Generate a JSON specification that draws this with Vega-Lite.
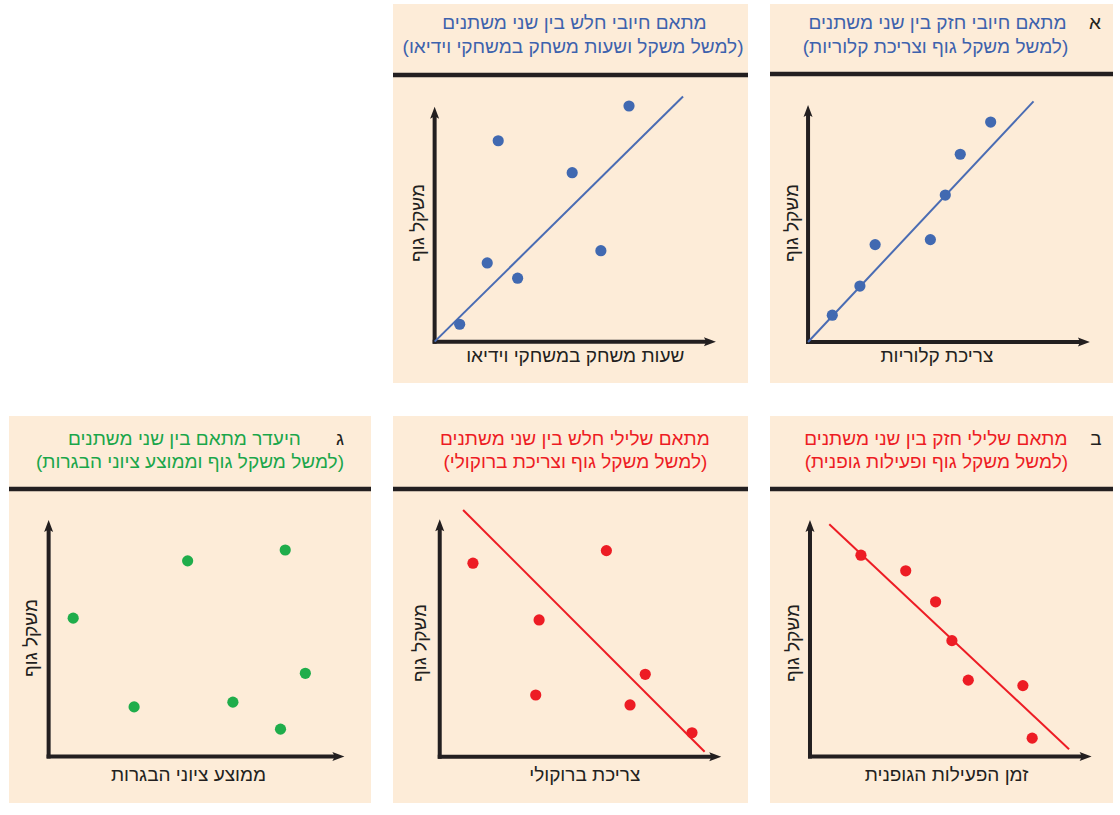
{
  "$schema": "https://vega.github.io/schema/vega-lite/v6.json",
  "background": "white",
  "padding": {"left": 6, "top": 4, "right": 0, "bottom": 0},
  "config": {
    "view": {"fill": "#fdecd8", "stroke": null},
    "axis": {"disable": true},
    "text": {"font": "Liberation Sans, DejaVu Sans", "fontSize": 19}
  },
  "datasets": {
    "one": [{}],
    "a1": [{"x":0.86,"y":1.13},{"x":1.84,"y":2.36},{"x":2.38,"y":4.11},{"x":4.34,"y":4.32},{"x":4.87,"y":6.2},{"x":5.4,"y":7.92},{"x":6.48,"y":9.28}],
    "a2": [{"x":0.89,"y":0.74},{"x":1.87,"y":3.35},{"x":2.26,"y":8.55},{"x":2.95,"y":2.7},{"x":4.89,"y":7.19},{"x":5.91,"y":3.87},{"x":6.91,"y":10.03}],
    "b1": [{"x":1.81,"y":8.51},{"x":3.4,"y":7.85},{"x":4.46,"y":6.54},{"x":5.04,"y":4.9},{"x":5.62,"y":3.23},{"x":7.56,"y":3.0},{"x":7.89,"y":0.78}],
    "b2": [{"x":1.18,"y":8.15},{"x":3.41,"y":2.6},{"x":3.53,"y":5.76},{"x":5.92,"y":8.68},{"x":6.76,"y":2.18},{"x":7.3,"y":3.47},{"x":8.96,"y":1.01}],
    "c": [{"x":0.83,"y":5.85},{"x":2.89,"y":2.1},{"x":4.7,"y":8.27},{"x":6.23,"y":2.3},{"x":7.84,"y":1.16},{"x":8.0,"y":8.73},{"x":8.68,"y":3.52}]
  },
  "vconcat": [
    {
      "bounds": "flush",
      "hconcat": [
        {"width": 362, "height": 379, "view": {"fill": null}, "data": {"name": "one"}, "mark": {"type": "point", "opacity": 0}},
        {
          "width": 355, "height": 379,
          "layer": [
            {"data":{"name":"one"},"mark":{"type":"rule","strokeWidth":4.5,"color":"#231f20"},"encoding":{"y":{"datum":11.35}}},
            {"data":{"name":"one"},"mark":{"type":"rule","strokeWidth":4,"color":"#231f20"},"encoding":{"x":{"datum":0},"y":{"datum":-0.085},"y2":{"datum":9.66}}},
            {"data":{"name":"one"},"mark":{"type":"rule","strokeWidth":4,"color":"#231f20"},"encoding":{"y":{"datum":0},"x":{"datum":-0.07},"x2":{"datum":9.72}}},
            {"data":{"name":"one"},"mark":{"type":"point","filled":true,"opacity":1,"color":"#231f20","size":144,"shape":"M0,0L0.75,2L0,1.6L-0.75,2Z"},"encoding":{"x":{"datum":0},"y":{"datum":10}}},
            {"data":{"name":"one"},"mark":{"type":"point","filled":true,"opacity":1,"color":"#231f20","size":144,"shape":"M0,0L-2,-0.75L-1.6,0L-2,0.75Z"},"encoding":{"x":{"datum":10},"y":{"datum":0}}},
            {"data":{"name":"one"},"mark":{"type":"rule","strokeWidth":2,"color":"#4a6cb3"},"encoding":{"x":{"datum":0},"y":{"datum":0},"x2":{"datum":8.83},"y2":{"datum":10.43}}},
            {"data":{"name":"a2"},"mark":{"type":"point","filled":true,"opacity":1,"size":125,"color":"#4169b1"},
             "encoding":{"x":{"field":"x","type":"quantitative","scale":{"domain":[-1.48,11.14],"nice":false,"zero":false}},"y":{"field":"y","type":"quantitative","scale":{"domain":[-1.76,14.37],"nice":false,"zero":false}}}},
            {"data":{"name":"one"},"mark":{"type":"text","text":"מתאם חיובי חלש בין שני משתנים","color":"#3d62ad","align":"center","baseline":"alphabetic"},"encoding":{"x":{"datum":4.97},"y":{"datum":13.31}}},
            {"data":{"name":"one"},"mark":{"type":"text","text":"(למשל משקל ושעות משחק במשחקי וידיאו)","color":"#3d62ad","align":"center","baseline":"alphabetic"},"encoding":{"x":{"datum":4.92},"y":{"datum":12.29}}},
            {"data":{"name":"one"},"mark":{"type":"text","text":"שעות משחק במשחקי וידיאו","color":"#231f20","align":"center","baseline":"alphabetic"},"encoding":{"x":{"datum":5.0},"y":{"datum":-0.86}}},
            {"data":{"name":"one"},"mark":{"type":"text","text":"משקל גוף","color":"#231f20","align":"center","baseline":"middle","angle":270},"encoding":{"x":{"datum":-0.59},"y":{"datum":5.05}}}
          ]
        },
        {
          "width": 343, "height": 379,
          "layer": [
            {"data":{"name":"one"},"mark":{"type":"rule","strokeWidth":4.5,"color":"#231f20"},"encoding":{"y":{"datum":11.31}}},
            {"data":{"name":"one"},"mark":{"type":"rule","strokeWidth":4,"color":"#231f20"},"encoding":{"x":{"datum":0},"y":{"datum":-0.085},"y2":{"datum":9.66}}},
            {"data":{"name":"one"},"mark":{"type":"rule","strokeWidth":4,"color":"#231f20"},"encoding":{"y":{"datum":0},"x":{"datum":-0.07},"x2":{"datum":9.72}}},
            {"data":{"name":"one"},"mark":{"type":"point","filled":true,"opacity":1,"color":"#231f20","size":144,"shape":"M0,0L0.75,2L0,1.6L-0.75,2Z"},"encoding":{"x":{"datum":0},"y":{"datum":10}}},
            {"data":{"name":"one"},"mark":{"type":"point","filled":true,"opacity":1,"color":"#231f20","size":144,"shape":"M0,0L-2,-0.75L-1.6,0L-2,0.75Z"},"encoding":{"x":{"datum":10},"y":{"datum":0}}},
            {"data":{"name":"one"},"mark":{"type":"rule","strokeWidth":2,"color":"#4a6cb3"},"encoding":{"x":{"datum":0},"y":{"datum":0},"x2":{"datum":8.0},"y2":{"datum":10.15}}},
            {"data":{"name":"a1"},"mark":{"type":"point","filled":true,"opacity":1,"size":125,"color":"#4169b1"},
             "encoding":{"x":{"field":"x","type":"quantitative","scale":{"domain":[-1.35,10.82],"nice":false,"zero":false}},"y":{"field":"y","type":"quantitative","scale":{"domain":[-1.73,14.26],"nice":false,"zero":false}}}},
            {"data":{"name":"one"},"mark":{"type":"text","text":"מתאם חיובי חזק בין שני משתנים","color":"#3d62ad","align":"center","baseline":"alphabetic"},"encoding":{"x":{"datum":4.59},"y":{"datum":13.21}}},
            {"data":{"name":"one"},"mark":{"type":"text","text":"(למשל משקל גוף וצריכת קלוריות)","color":"#3d62ad","align":"center","baseline":"alphabetic"},"encoding":{"x":{"datum":4.52},"y":{"datum":12.21}}},
            {"data":{"name":"one"},"mark":{"type":"text","text":"א","color":"#231f20","align":"center","baseline":"alphabetic"},"encoding":{"x":{"datum":10.18},"y":{"datum":13.21}}},
            {"data":{"name":"one"},"mark":{"type":"text","text":"צריכת קלוריות","color":"#231f20","align":"center","baseline":"alphabetic"},"encoding":{"x":{"datum":4.57},"y":{"datum":-0.84}}},
            {"data":{"name":"one"},"mark":{"type":"text","text":"משקל גוף","color":"#231f20","align":"center","baseline":"middle","angle":270},"encoding":{"x":{"datum":-0.57},"y":{"datum":5.02}}}
          ]
        }
      ],
      "spacing": 22
    },
    {
      "bounds": "flush",
      "hconcat": [
        {
          "width": 362, "height": 387,
          "layer": [
            {"data":{"name":"one"},"mark":{"type":"rule","strokeWidth":4.5,"color":"#231f20"},"encoding":{"y":{"datum":11.31}}},
            {"data":{"name":"one"},"mark":{"type":"rule","strokeWidth":4,"color":"#231f20"},"encoding":{"x":{"datum":0},"y":{"datum":-0.085},"y2":{"datum":9.66}}},
            {"data":{"name":"one"},"mark":{"type":"rule","strokeWidth":4,"color":"#231f20"},"encoding":{"y":{"datum":0},"x":{"datum":-0.07},"x2":{"datum":9.73}}},
            {"data":{"name":"one"},"mark":{"type":"point","filled":true,"opacity":1,"color":"#231f20","size":144,"shape":"M0,0L0.75,2L0,1.6L-0.75,2Z"},"encoding":{"x":{"datum":0},"y":{"datum":10}}},
            {"data":{"name":"one"},"mark":{"type":"point","filled":true,"opacity":1,"color":"#231f20","size":144,"shape":"M0,0L-2,-0.75L-1.6,0L-2,0.75Z"},"encoding":{"x":{"datum":10},"y":{"datum":0}}},
            {"data":{"name":"c"},"mark":{"type":"point","filled":true,"opacity":1,"size":125,"color":"#1fad4b"},
             "encoding":{"x":{"field":"x","type":"quantitative","scale":{"domain":[-1.34,10.9],"nice":false,"zero":false}},"y":{"field":"y","type":"quantitative","scale":{"domain":[-1.96,14.39],"nice":false,"zero":false}}}},
            {"data":{"name":"one"},"mark":{"type":"text","text":"היעדר מתאם בין שני משתנים","color":"#1aa64a","align":"center","baseline":"alphabetic"},"encoding":{"x":{"datum":4.59},"y":{"datum":13.17}}},
            {"data":{"name":"one"},"mark":{"type":"text","text":"(למשל משקל גוף וממוצע ציוני הבגרות)","color":"#1aa64a","align":"center","baseline":"alphabetic"},"encoding":{"x":{"datum":4.78},"y":{"datum":12.2}}},
            {"data":{"name":"one"},"mark":{"type":"text","text":"ג","color":"#231f20","align":"center","baseline":"alphabetic"},"encoding":{"x":{"datum":9.85},"y":{"datum":13.17}}},
            {"data":{"name":"one"},"mark":{"type":"text","text":"ממוצע ציוני הבגרות","color":"#231f20","align":"center","baseline":"alphabetic"},"encoding":{"x":{"datum":4.73},"y":{"datum":-1.03}}},
            {"data":{"name":"one"},"mark":{"type":"text","text":"משקל גוף","color":"#231f20","align":"center","baseline":"middle","angle":270},"encoding":{"x":{"datum":-0.6},"y":{"datum":5.01}}}
          ]
        },
        {
          "width": 355, "height": 387,
          "layer": [
            {"data":{"name":"one"},"mark":{"type":"rule","strokeWidth":4.5,"color":"#231f20"},"encoding":{"y":{"datum":11.28}}},
            {"data":{"name":"one"},"mark":{"type":"rule","strokeWidth":4,"color":"#231f20"},"encoding":{"x":{"datum":0},"y":{"datum":-0.085},"y2":{"datum":9.66}}},
            {"data":{"name":"one"},"mark":{"type":"rule","strokeWidth":4,"color":"#231f20"},"encoding":{"y":{"datum":0},"x":{"datum":-0.07},"x2":{"datum":9.72}}},
            {"data":{"name":"one"},"mark":{"type":"point","filled":true,"opacity":1,"color":"#231f20","size":144,"shape":"M0,0L0.75,2L0,1.6L-0.75,2Z"},"encoding":{"x":{"datum":0},"y":{"datum":10}}},
            {"data":{"name":"one"},"mark":{"type":"point","filled":true,"opacity":1,"color":"#231f20","size":144,"shape":"M0,0L-2,-0.75L-1.6,0L-2,0.75Z"},"encoding":{"x":{"datum":10},"y":{"datum":0}}},
            {"data":{"name":"one"},"mark":{"type":"rule","strokeWidth":2,"color":"#ed1c24"},"encoding":{"x":{"datum":0.83},"y":{"datum":10.39},"x2":{"datum":9.41},"y2":{"datum":0.21}}},
            {"data":{"name":"b2"},"mark":{"type":"point","filled":true,"opacity":1,"size":125,"color":"#ed1c24"},
             "encoding":{"x":{"field":"x","type":"quantitative","scale":{"domain":[-1.66,10.95],"nice":false,"zero":false}},"y":{"field":"y","type":"quantitative","scale":{"domain":[-1.95,14.35],"nice":false,"zero":false}}}},
            {"data":{"name":"one"},"mark":{"type":"text","text":"מתאם שלילי חלש בין שני משתנים","color":"#ed1c24","align":"center","baseline":"alphabetic"},"encoding":{"x":{"datum":4.8},"y":{"datum":13.13}}},
            {"data":{"name":"one"},"mark":{"type":"text","text":"(למשל משקל גוף וצריכת ברוקולי)","color":"#ed1c24","align":"center","baseline":"alphabetic"},"encoding":{"x":{"datum":4.82},"y":{"datum":12.16}}},
            {"data":{"name":"one"},"mark":{"type":"text","text":"צריכת ברוקולי","color":"#231f20","align":"center","baseline":"alphabetic"},"encoding":{"x":{"datum":5.15},"y":{"datum":-1.02}}},
            {"data":{"name":"one"},"mark":{"type":"text","text":"משקל גוף","color":"#231f20","align":"center","baseline":"middle","angle":270},"encoding":{"x":{"datum":-0.71},"y":{"datum":4.79}}}
          ]
        },
        {
          "width": 343, "height": 387,
          "layer": [
            {"data":{"name":"one"},"mark":{"type":"rule","strokeWidth":4.5,"color":"#231f20"},"encoding":{"y":{"datum":11.31}}},
            {"data":{"name":"one"},"mark":{"type":"rule","strokeWidth":4,"color":"#231f20"},"encoding":{"x":{"datum":0},"y":{"datum":-0.085},"y2":{"datum":9.66}}},
            {"data":{"name":"one"},"mark":{"type":"rule","strokeWidth":4,"color":"#231f20"},"encoding":{"y":{"datum":0},"x":{"datum":-0.07},"x2":{"datum":9.72}}},
            {"data":{"name":"one"},"mark":{"type":"point","filled":true,"opacity":1,"color":"#231f20","size":144,"shape":"M0,0L0.75,2L0,1.6L-0.75,2Z"},"encoding":{"x":{"datum":0},"y":{"datum":10}}},
            {"data":{"name":"one"},"mark":{"type":"point","filled":true,"opacity":1,"color":"#231f20","size":144,"shape":"M0,0L-2,-0.75L-1.6,0L-2,0.75Z"},"encoding":{"x":{"datum":10},"y":{"datum":0}}},
            {"data":{"name":"one"},"mark":{"type":"rule","strokeWidth":2,"color":"#ed1c24"},"encoding":{"x":{"datum":0.685},"y":{"datum":9.82},"x2":{"datum":9.2},"y2":{"datum":0.31}}},
            {"data":{"name":"b1"},"mark":{"type":"point","filled":true,"opacity":1,"size":125,"color":"#ed1c24"},
             "encoding":{"x":{"field":"x","type":"quantitative","scale":{"domain":[-1.42,10.76],"nice":false,"zero":false}},"y":{"field":"y","type":"quantitative","scale":{"domain":[-1.96,14.39],"nice":false,"zero":false}}}},
            {"data":{"name":"one"},"mark":{"type":"text","text":"מתאם שלילי חזק בין שני משתנים","color":"#ed1c24","align":"center","baseline":"alphabetic"},"encoding":{"x":{"datum":4.47},"y":{"datum":13.17}}},
            {"data":{"name":"one"},"mark":{"type":"text","text":"(למשל משקל גוף ופעילות גופנית)","color":"#ed1c24","align":"center","baseline":"alphabetic"},"encoding":{"x":{"datum":4.49},"y":{"datum":12.2}}},
            {"data":{"name":"one"},"mark":{"type":"text","text":"ב","color":"#231f20","align":"center","baseline":"alphabetic"},"encoding":{"x":{"datum":10.15},"y":{"datum":13.17}}},
            {"data":{"name":"one"},"mark":{"type":"text","text":"זמן הפעילות הגופנית","color":"#231f20","align":"center","baseline":"alphabetic"},"encoding":{"x":{"datum":4.85},"y":{"datum":-1.03}}},
            {"data":{"name":"one"},"mark":{"type":"text","text":"משקל גוף","color":"#231f20","align":"center","baseline":"middle","angle":270},"encoding":{"x":{"datum":-0.6},"y":{"datum":4.8}}}
          ]
        }
      ],
      "spacing": 22
    }
  ],
  "spacing": 33
}
